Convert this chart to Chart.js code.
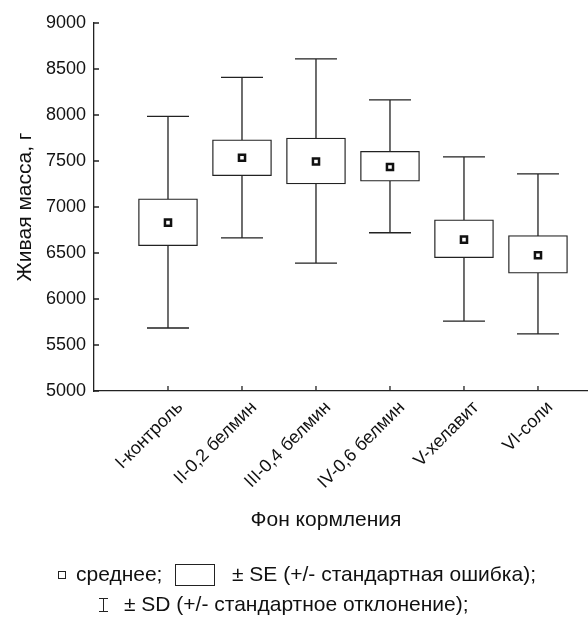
<!DOCTYPE html>
<html>
<head>
<meta charset="utf-8">
<script src="https://cdn.jsdelivr.net/npm/chart.js@4.4.0/dist/chart.umd.min.js"></script>
<style>
    html, body { margin: 0; padding: 0; background: #fff; }
    canvas { display: block; }
</style>
</head>
<body>
<canvas id="chart" width="588" height="619"></canvas>
<script>
// Data (live weight, g)
const categories = ['I-контроль', 'II-0,2 белмин', 'III-0,4 белмин', 'IV-0,6 белмин', 'V-хелавит', 'VI-соли'];
const meanVals = [6830, 7535, 7495, 7435, 6645, 6475];
const seLow = [6580, 7340, 7250, 7280, 6450, 6280];
const seHigh = [7090, 7730, 7750, 7605, 6860, 6690];
const sdLow = [5685, 6665, 6390, 6720, 5760, 5620];
const sdHigh = [7985, 8410, 8610, 8165, 7545, 7360];
const yTicks = [5000, 5500, 6000, 6500, 7000, 7500, 8000, 8500, 9000];

const FONT = "'Liberation Sans', Arial, sans-serif";
const INK = '#222';
const TEXT = '#111';

Chart.defaults.font.family = FONT;
Chart.defaults.color = TEXT;

// whiskers (SD) behind the boxes, inward tick marks, legend text
const extras = {
    id: 'extras',
    beforeDatasetsDraw(chart) {
        const { ctx, scales: { x, y } } = chart;
        ctx.save();
        ctx.strokeStyle = INK;
        ctx.lineWidth = 1.3;
        categories.forEach((c, i) => {
            const px = x.getPixelForValue(i + 1);
            const lo = y.getPixelForValue(sdLow[i]);
            const hi = y.getPixelForValue(sdHigh[i]);
            ctx.beginPath();
            ctx.moveTo(px, lo); ctx.lineTo(px, hi);
            ctx.moveTo(px - 21, lo); ctx.lineTo(px + 21, lo);
            ctx.moveTo(px - 21, hi); ctx.lineTo(px + 21, hi);
            ctx.stroke();
        });
        ctx.restore();
    },
    afterDraw(chart) {
        const { ctx, chartArea: area, scales: { x, y } } = chart;
        ctx.save();
        ctx.strokeStyle = INK;
        ctx.lineWidth = 1.3;
        ctx.beginPath();
        yTicks.forEach(v => {
            const py = y.getPixelForValue(v);
            ctx.moveTo(area.left, py); ctx.lineTo(area.left + 5, py);
        });
        categories.forEach((c, i) => {
            const px = x.getPixelForValue(i + 1);
            ctx.moveTo(px, area.bottom); ctx.lineTo(px, area.bottom - 5);
        });
        ctx.stroke();

        // axis title and legend
        ctx.fillStyle = TEXT;
        ctx.font = `21px ${FONT}`;
        ctx.textBaseline = 'middle';
        ctx.textAlign = 'center';
        ctx.fillText('Фон кормления', 326, 520);

        ctx.textAlign = 'left';
        ctx.lineWidth = 1;
        ctx.strokeRect(58.5, 571.5, 7, 7);
        ctx.fillText('среднее;', 76, 575);
        ctx.strokeRect(175.5, 564.5, 39, 21);
        ctx.fillText('± SE (+/- стандартная ошибка);', 232, 575);

        ctx.beginPath();
        ctx.moveTo(103.5, 598); ctx.lineTo(103.5, 612);
        ctx.moveTo(99, 598.5); ctx.lineTo(108, 598.5);
        ctx.moveTo(99, 611.5); ctx.lineTo(108, 611.5);
        ctx.stroke();
        ctx.fillText('± SD (+/- стандартное отклонение);', 124, 605);
        ctx.restore();
    }
};

new Chart(document.getElementById('chart'), {
    type: 'bar',
    data: {
        datasets: [
            {
                type: 'line',
                label: 'среднее',
                data: meanVals.map((v, i) => ({ x: i + 1, y: v })),
                showLine: false,
                pointStyle: 'rect',
                pointRadius: 4.3,
                pointBorderWidth: 2.5,
                pointBackgroundColor: '#fff',
                pointBorderColor: '#111',
                order: 0
            },
            {
                label: '± SE',
                data: seLow.map((v, i) => ({ x: i + 1, y: [v, seHigh[i]] })),
                backgroundColor: '#fff',
                borderColor: INK,
                borderWidth: 1.3,
                borderSkipped: false,
                barThickness: 59,
                order: 1
            }
        ]
    },
    options: {
        responsive: false,
        animation: false,
        layout: { autoPadding: false, padding: { top: 23, right: 0, bottom: 0, left: 0 } },
        plugins: {
            legend: { display: false },
            tooltip: { enabled: false }
        },
        scales: {
            x: {
                type: 'linear',
                min: 0,
                max: 6.676,
                offset: false,
                grid: { display: false, drawTicks: false },
                border: { color: INK, width: 1.3 },
                ticks: {
                    autoSkip: false,
                    minRotation: 45,
                    maxRotation: 45,
                    padding: 6,
                    labelOffset: 12,
                    font: { size: 18 },
                    color: TEXT,
                    callback: v => categories[Math.round(v) - 1] || ''
                },
                afterBuildTicks: s => { s.ticks = categories.map((c, i) => ({ value: i + 1 })); },
                afterFit: s => {
                    s.height = 228;
                    s.paddingLeft = 0;
                    s.paddingRight = 0;
                }
            },
            y: {
                min: 5000,
                max: 9000,
                grid: { display: false, drawTicks: false },
                border: { color: INK, width: 1.3 },
                ticks: {
                    stepSize: 500,
                    padding: 8,
                    font: { size: 18 },
                    color: TEXT,
                    callback: v => String(v)
                },
                title: {
                    display: true,
                    text: 'Живая масса, г',
                    font: { size: 21, lineHeight: 2.38 },
                    color: TEXT,
                    padding: 0
                },
                afterFit: s => { s.width = 94; }
            }
        }
    },
    plugins: [extras]
});
</script>
</body>
</html>
